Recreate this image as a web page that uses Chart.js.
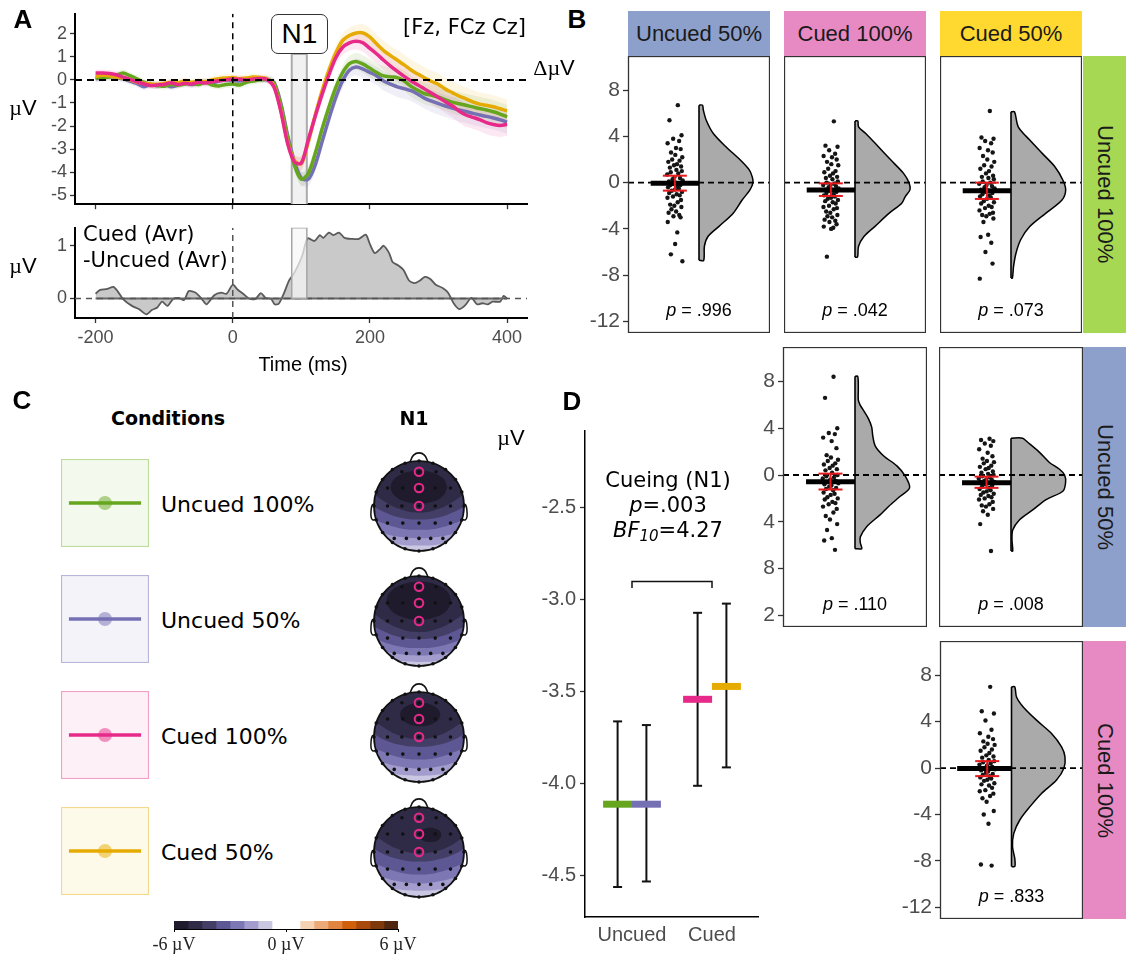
<!DOCTYPE html>
<html>
<head>
<meta charset="utf-8">
<title>ERP cueing figure</title>
<script src="https://cdn.jsdelivr.net/npm/chart.js@4.4.1/dist/chart.umd.min.js"></script>
<style>
  html,body{margin:0;padding:0;background:#fff;}
  #wrap{position:relative;width:1126px;height:956px;overflow:hidden;background:#fff;}
  #wrap canvas{position:absolute;}
  .t{position:absolute;white-space:nowrap;line-height:1;z-index:10;color:#000;}
  .sans{font-family:'Liberation Sans',Arial,sans-serif;}
  .dv{font-family:'DejaVu Sans',Verdana,sans-serif;}
  .serif{font-family:'Liberation Serif','Times New Roman',serif;}
  .strip{position:absolute;display:flex;align-items:center;justify-content:center;font-family:'Liberation Sans',Arial,sans-serif;font-size:22px;color:#1a1a1a;z-index:3;}
  .vert{writing-mode:vertical-rl;}
  .n1box{position:absolute;left:271px;top:14px;width:57px;height:40px;box-sizing:border-box;border:1.5px solid #333;border-radius:7px;background:#fff;z-index:10;display:flex;align-items:center;justify-content:center;font-family:'Liberation Sans',Arial,sans-serif;font-size:28px;}
</style>
</head>
<body>
<div id="wrap"></div>
<script>
// ======================= DATA =======================
// Panel A: grand-average ERPs at [Fz, FCz, Cz] (µV), time in ms
const erpTime = [-200,-190,-180,-170,-160,-150,-140,-130,-120,-110,-100,-90,-80,-70,-60,-50,-40,-30,-20,-10,0,10,20,30,40,50,60,70,80,90,100,110,120,130,140,150,160,170,180,190,200,210,220,230,240,250,260,270,280,290,300,310,320,330,340,350,360,370,380,390,400];
const erpUncued100 = [0.08,0.10,0.12,0.20,0.30,0.18,0.05,-0.10,-0.20,-0.24,-0.28,-0.20,-0.22,-0.18,-0.15,-0.20,-0.10,-0.22,-0.26,-0.20,-0.18,-0.22,-0.10,-0.05,0.00,0.02,
  -0.15,-1.10,-2.50,-3.70,-4.30,-4.05,-3.20,-2.15,-1.20,-0.35,0.30,0.70,0.80,0.68,0.50,0.32,0.17,0.13,0.10,-0.05,-0.28,-0.45,-0.60,-0.67,-0.75,-0.86,-0.96,-1.03,-1.10,-1.17,-1.24,-1.30,-1.38,-1.48,-1.60];
const erpUncued50 = [0.05,0.08,0.15,0.10,0.05,-0.05,-0.15,-0.30,-0.20,-0.25,-0.18,-0.30,-0.22,-0.10,-0.20,-0.15,-0.08,-0.12,-0.05,0.00,-0.02,-0.05,0.00,0.05,0.02,0.00,
  -0.10,-1.00,-2.40,-3.55,-4.25,-4.30,-3.70,-2.70,-1.70,-0.78,-0.05,0.42,0.56,0.47,0.32,0.17,-0.05,-0.18,-0.30,-0.38,-0.47,-0.62,-0.80,-0.92,-1.03,-1.13,-1.22,-1.30,-1.37,-1.45,-1.52,-1.58,-1.65,-1.73,-1.83];
const erpCued100 = [0.30,0.30,0.28,0.22,0.12,0.02,-0.08,-0.17,-0.24,-0.22,-0.20,-0.12,-0.20,-0.15,-0.18,-0.10,-0.14,-0.08,-0.04,0.00,0.04,0.03,0.00,0.04,0.06,0.02,
  -0.30,-1.35,-2.75,-3.55,-3.60,-2.60,-1.60,-0.65,0.20,0.95,1.40,1.60,1.67,1.60,1.36,1.12,0.85,0.60,0.37,0.15,-0.05,-0.22,-0.40,-0.58,-0.76,-0.95,-1.12,-1.35,-1.52,-1.62,-1.72,-1.85,-1.93,-1.97,-1.92];
const erpCued50 = [0.15,0.20,0.18,0.12,0.08,0.00,-0.10,-0.15,-0.18,-0.20,-0.15,-0.10,-0.12,-0.05,-0.10,-0.05,-0.08,0.00,0.05,0.08,0.10,0.05,0.08,0.12,0.10,0.05,
  -0.25,-1.30,-2.70,-3.50,-3.62,-2.70,-1.55,-0.50,0.40,1.15,1.70,1.92,2.03,2.03,1.85,1.55,1.27,1.05,0.85,0.65,0.43,0.25,0.08,-0.07,-0.20,-0.40,-0.55,-0.70,-0.82,-0.95,-1.05,-1.10,-1.16,-1.25,-1.34];
const erpSE = [0.15,0.15,0.15,0.15,0.15,0.15,0.15,0.15,0.15,0.15,0.15,0.15,0.15,0.15,0.15,0.15,0.15,0.15,0.15,0.15,0.15,0.15,0.15,0.15,0.15,0.15,
  0.20,0.22,0.25,0.28,0.30,0.30,0.30,0.30,0.30,0.30,0.32,0.34,0.36,0.38,0.40,0.40,0.42,0.42,0.44,0.44,0.45,0.46,0.46,0.47,0.48,0.48,0.49,0.50,0.50,0.50,0.50,0.50,0.50,0.50,0.50];
const n1Window = [86, 108];
// Cued (Avr) - Uncued (Avr)
const diffTime = [-200,-194,-183,-174,-168,-160,-147,-137,-126,-118,-110,-103,-95,-87,-79,-71,-64,-54,-45,-38,-27,-17,-9,0,7,15,25,33,41,48,56,61,67,75,82,90,101,109,119,127,132,140,147,155,163,174,184,194,200,207,215,220,228,233,241,249,257,265,273,280,288,296,306,314,322,330,338,348,356,364,372,379,390,395,400];
const diffValue = [0.09,0.16,0.18,0.22,0.14,-0.01,-0.14,-0.20,-0.30,-0.22,-0.17,-0.06,-0.14,-0.01,0.01,-0.03,0.14,0.11,-0.01,-0.11,0.06,0.11,0.09,0.26,0.17,0.09,-0.01,-0.01,0.10,0.01,-0.01,-0.11,-0.10,0.11,0.34,0.49,0.80,1.14,1.09,1.20,1.15,1.25,1.20,1.25,1.15,1.13,1.13,1.21,1.03,0.86,0.94,1.00,0.86,0.69,0.63,0.54,0.34,0.29,0.34,0.41,0.37,0.26,0.20,0.11,-0.09,-0.20,-0.14,0.01,-0.11,-0.09,-0.11,-0.06,-0.06,0.05,0.00];
const ticksTime = [-200, 0, 200, 400];
const ticksErp = [-5, -4, -3, -2, -1, 0, 1, 2];
const ticksDiff = [0, 1];

const conditions = ['Uncued 100%', 'Uncued 50%', 'Cued 100%', 'Cued 50%'];
const condColors = ['#66A61E', '#7570B3', '#E7298A', '#E6AB02'];

// Panel B: pairwise N1 differences (ΔµV), one value per participant
const diffU100vsU50 = [6.7,5.4,4.1,3.8,3.6,3.4,3.0,2.9,2.6,2.4,2.2,2.0,1.9,1.8,1.6,1.5,1.4,1.3,1.1,1.0,0.9,0.8,0.7,0.5,0.4,0.3,0.2,0.1,0.0,-0.1,-0.2,-0.2,-0.3,-0.4,-0.5,-0.6,-0.7,-0.8,-0.9,-1.0,-1.1,-1.2,-1.3,-1.5,-1.7,-1.9,-2.0,-2.1,-2.3,-2.5,-2.6,-2.8,-2.9,-3.0,-3.4,-4.3,-5.3,-6.2,-6.8];
const diffU100vsC100 = [5.3,3.2,3.1,2.8,2.5,2.3,2.2,2.0,1.8,1.6,1.5,1.2,1.0,0.9,0.8,0.6,0.5,0.4,0.3,0.1,0.0,-0.1,-0.2,-0.2,-0.3,-0.4,-0.5,-0.6,-0.6,-0.7,-0.8,-0.9,-1.0,-1.1,-1.2,-1.3,-1.4,-1.5,-1.6,-1.7,-1.8,-2.0,-2.1,-2.2,-2.3,-2.5,-2.6,-2.8,-2.9,-3.0,-3.2,-3.3,-3.4,-3.6,-3.8,-3.9,-4.0,-6.4];
const diffU100vsC50 = [6.2,3.9,3.8,3.6,3.4,3.0,2.8,2.6,2.3,2.0,1.8,1.5,1.4,1.2,1.0,0.8,0.6,0.5,0.4,0.3,0.1,0.0,-0.1,-0.2,-0.3,-0.4,-0.5,-0.6,-0.7,-0.8,-0.9,-1.0,-1.1,-1.2,-1.3,-1.4,-1.6,-1.7,-1.8,-2.0,-2.1,-2.2,-2.4,-2.6,-2.7,-2.8,-2.9,-3.1,-3.4,-4.5,-4.7,-5.2,-6.0,-7.0,-8.3];
const diffU50vsC100 = [8.4,6.6,4.0,3.6,3.5,3.2,2.9,2.3,1.7,1.5,1.3,1.2,1.0,0.9,0.8,0.6,0.5,0.4,0.2,0.0,-0.1,-0.2,-0.3,-0.4,-0.5,-0.6,-0.7,-0.8,-0.9,-1.0,-1.1,-1.2,-1.3,-1.5,-1.6,-1.7,-1.9,-2.0,-2.1,-2.3,-2.4,-2.5,-2.7,-2.9,-3.2,-3.5,-3.8,-4.2,-4.7,-5.4,-5.6,-6.4];
const diffU50vsC50 = [3.1,3.0,2.9,2.7,2.5,2.2,1.9,1.6,1.4,1.2,1.1,1.0,0.8,0.7,0.6,0.5,0.3,0.2,0.1,0.0,-0.1,-0.2,-0.3,-0.4,-0.4,-0.5,-0.6,-0.6,-0.7,-0.8,-0.9,-1.0,-1.1,-1.2,-1.3,-1.4,-1.5,-1.6,-1.7,-1.8,-1.9,-2.0,-2.1,-2.3,-2.5,-2.6,-2.7,-2.9,-3.1,-3.4,-4.2,-6.5];
const diffC100vsC50 = [7.0,4.9,4.7,4.1,3.3,3.0,2.7,2.5,2.3,2.1,2.0,1.8,1.6,1.5,1.3,1.1,1.0,0.9,0.7,0.6,0.5,0.4,0.3,0.2,0.1,0.0,-0.1,-0.2,-0.3,-0.4,-0.5,-0.6,-0.7,-0.8,-0.9,-1.0,-1.1,-1.3,-1.4,-1.5,-1.7,-1.9,-2.0,-2.2,-2.4,-2.6,-2.9,-3.7,-4.0,-4.8,-8.3,-8.4];
const jitter = [0.021,-0.038,0.047,-0.012,0.030,-0.051,0.008,0.041,-0.027,0.003,0.052,-0.019,0.033,-0.046,0.015,-0.006,0.044,-0.035,0.011,0.049,-0.029,0.024,-0.054,-0.002,0.036,-0.016,0.055,-0.042,0.006,-0.009,0.039,-0.031,0.018,-0.048,0.028,0.001,-0.022,0.050,-0.040,0.013,0.034,-0.013,-0.052,0.043,0.020,-0.033,-0.004,0.046,-0.024,0.009,-0.044,0.031,-0.010,0.040,-0.050,0.017,0.002,-0.028,0.053,-0.018];
// half-violin outlines: level (ΔµV) and half width (fraction of panel width)
const vioY_U100U50 = [-6.72,-5.5,-4.66,-3.8,-2.64,-1.5,-0.63,0,0.5,1.1,1.95,3.1,4.25,5.4,6.3,6.7];
const vioW_U100U50 = [0.033,0.038,0.063,0.139,0.241,0.304,0.359,0.38,0.375,0.354,0.291,0.19,0.101,0.051,0.03,0.025];
const vioY_U100C100 = [-6.44,-5.5,-4.66,-3.8,-2.64,-1.78,-1.2,-0.63,0,0.8,1.95,3.1,4.25,4.83,5.34];
const vioW_U100C100 = [0.018,0.025,0.063,0.139,0.241,0.329,0.354,0.387,0.38,0.342,0.253,0.165,0.076,0.025,0.02];
const vioY_U100C50 = [-8.25,-7.24,-6.1,-4.94,-3.8,-2.64,-1.5,-0.63,0.23,1.38,2.53,3.68,4.83,6.12];
const vioW_U100C50 = [0.01,0.018,0.035,0.068,0.132,0.246,0.359,0.385,0.365,0.309,0.22,0.132,0.051,0.025];
const vioY_U50C100 = [-6.3,-5.8,-5.29,-4.42,-3.41,-2.69,-1.82,-1.1,-0.09,0.78,1.65,2.5,3.38,4.1,4.83,5.55,6.0,6.4,7.43,8.44];
const vioW_U50C100 = [0.047,0.037,0.037,0.081,0.174,0.233,0.314,0.379,0.349,0.291,0.198,0.14,0.123,0.116,0.093,0.058,0.035,0.023,0.023,0.019];
const vioY_U50C50 = [-6.5,-5.58,-4.71,-3.84,-2.98,-2.1,-1.39,-0.66,0,0.49,1.07,1.94,2.8,3.15];
const vioW_U50C50 = [0.012,0.007,0.012,0.058,0.151,0.244,0.36,0.379,0.372,0.337,0.267,0.198,0.116,0.081];
const vioY_C100C50 = [-8.48,-7.8,-6.76,-5.62,-4.47,-3.32,-2.18,-1.03,0,0.97,1.83,2.98,4.13,5.27,6.13,7.0];
const vioW_C100C50 = [0.023,0.023,0.007,0.016,0.058,0.129,0.21,0.315,0.367,0.374,0.35,0.28,0.175,0.082,0.035,0.023];
const meanB = [-0.05, -0.63, -0.69, -0.58, -0.66, -0.03];
const ciLowB = [-0.69, -1.15, -1.41, -1.24, -1.10, -0.69];
const ciHighB = [0.60, -0.06, 0.00, 0.12, -0.14, 0.60];
const pB = ['.996', '.042', '.073', '.110', '.008', '.833'];
const ticksB = [-12, -8, -4, 0, 4, 8];

// Panel C: N1 topographies. Contour boundaries (head coordinates, unit radius):
// for each map, the y of the -1.5, -2.25, -3.0, -3.75, -4.5 µV contours at topoCurveX,
// plus the outline of the region below -5.25 µV.
const topoCurveX = [-1.2, -0.8, -0.4, 0, 0.4, 0.8, 1.2];
const topoU100Levels = [
  [-0.60,-0.78,-0.86,-0.88,-0.86,-0.78,-0.60],
  [-0.42,-0.60,-0.69,-0.72,-0.69,-0.60,-0.42],
  [-0.18,-0.38,-0.50,-0.53,-0.50,-0.38,-0.18],
  [ 0.10,-0.12,-0.26,-0.30,-0.26,-0.12, 0.10],
  [ 0.45, 0.12,-0.08,-0.15,-0.08, 0.12, 0.45]];
const topoU100CoreX = [0.63,0.546,0.315,0,-0.315,-0.546,-0.63,-0.546,-0.315,0,0.315,0.546];
const topoU100CoreY = [0.42,0.605,0.74,0.79,0.74,0.605,0.42,0.235,0.10,0.05,0.10,0.235];
const topoU50Levels = [
  [-0.68,-0.82,-0.89,-0.91,-0.89,-0.82,-0.68],
  [-0.50,-0.66,-0.74,-0.77,-0.74,-0.66,-0.50],
  [-0.28,-0.46,-0.57,-0.60,-0.57,-0.46,-0.28],
  [ 0.00,-0.22,-0.36,-0.40,-0.36,-0.22, 0.00],
  [ 0.35, 0.02,-0.18,-0.25,-0.18, 0.02, 0.35]];
const topoU50CoreX = [0.72,0.624,0.36,0,-0.36,-0.624,-0.72,-0.624,-0.36,0,0.36,0.624];
const topoU50CoreY = [0.45,0.66,0.814,0.87,0.814,0.66,0.45,0.24,0.086,0.03,0.086,0.24];
const topoC100Levels = [
  [-0.58,-0.76,-0.84,-0.86,-0.84,-0.76,-0.58],
  [-0.38,-0.56,-0.66,-0.70,-0.66,-0.56,-0.38],
  [-0.12,-0.33,-0.46,-0.50,-0.46,-0.33,-0.12],
  [ 0.20,-0.05,-0.18,-0.22,-0.18,-0.05, 0.20],
  [ 0.55, 0.22, 0.02,-0.05, 0.02, 0.22, 0.55]];
const topoC100CoreX = [0.48,0.42,0.255,0.03,-0.195,-0.36,-0.42,-0.36,-0.195,0.03,0.255,0.42];
const topoC100CoreY = [0.5,0.63,0.725,0.76,0.725,0.63,0.5,0.37,0.275,0.24,0.275,0.37];
const topoC50Levels = [
  [-0.58,-0.76,-0.84,-0.86,-0.84,-0.76,-0.58],
  [-0.38,-0.56,-0.66,-0.70,-0.66,-0.56,-0.38],
  [-0.12,-0.33,-0.46,-0.50,-0.46,-0.33,-0.12],
  [ 0.22,-0.04,-0.17,-0.21,-0.17,-0.04, 0.22],
  [ 0.55, 0.24, 0.04,-0.03, 0.02, 0.20, 0.52]];
const topoC50CoreX = [0.5,0.467,0.375,0.25,0.125,0.033,0,0.033,0.125,0.25,0.375,0.467];
const topoC50CoreY = [0.38,0.46,0.519,0.54,0.519,0.46,0.38,0.30,0.241,0.22,0.241,0.30];
// electrode layout (unit head radius)
const elecX = [-0.38,0.38,-0.70,-0.36,0.36,0.70,-0.70,-0.38,0.36,0.70,-0.70,-0.36,0,0.36,0.70,-0.55,-0.28,0,0.26,0.53,0,0,0,
  0,0.31,0.59,0.81,0.95,1,0.95,0.81,0.59,0.31,0,-0.31,-0.59,-0.81,-0.95,-1,-0.95,-0.81,-0.59,-0.31];
const elecY = [0.76,0.76,0.40,0.40,0.40,0.40,0,0,0,0,-0.38,-0.38,-0.38,-0.38,-0.38,-0.72,-0.72,-0.72,-0.72,-0.72,0.76,0.40,0,
  1,0.95,0.81,0.59,0.31,0,-0.31,-0.59,-0.81,-0.95,-1,-0.95,-0.81,-0.59,-0.31,0,0.31,0.59,0.81,0.95];
const roiX = [0, 0, 0];          // Fz, FCz, Cz
const roiY = [0.76, 0.40, 0];
const noseX = [-0.2,-0.12,0,0.12,0.2];
const noseY = [0.98,1.13,1.18,1.13,0.98];
const earLX = [-0.99,-1.04,-1.065,-1.065,-1.03,-0.96];
const earRX = [0.99,1.04,1.065,1.065,1.03,0.96];
const earY = [0.05,0.02,-0.1,-0.24,-0.31,-0.30];
const cbEdges = [-6,-5.25,-4.5,-3.75,-3,-2.25,-1.5,-0.75,0,0.75,1.5,2.25,3,3.75,4.5,5.25,6];
const cbColors = ['#1f1b2d','#2f2b47','#433e66','#5d5793','#7d77b4','#a29dcc','#cac7e3','#ffffff','#ffffff','#f4d2b2','#ecaa78','#e1843f','#d1600d','#a9490b','#7d380c','#4f270e'];
const cbTicks = [-6, 0, 6];

// Panel D: N1 amplitude per condition (µV) with error bars
const dGroup = [1, 1, 2, 2];               // 1 = Uncued, 2 = Cued
const dMean = [-4.11, -4.11, -3.54, -3.47];
const dLow  = [-4.56, -4.53, -4.01, -3.91];
const dHigh = [-3.66, -3.68, -3.07, -3.02];
const dCategories = ['Uncued', 'Cued'];
const ticksD = [-4.5, -4.0, -3.5, -3.0, -2.5];
const dBracketY = -2.9;

// ======================= RENDERING =======================
Chart.defaults.animation = false;
Chart.defaults.responsive = false;
Chart.defaults.devicePixelRatio = 1;
Chart.defaults.layout.autoPadding = false;
Chart.defaults.font.family = "'Liberation Sans', Arial, sans-serif";
Chart.defaults.plugins.legend.display = false;
Chart.defaults.plugins.tooltip.enabled = false;
Chart.defaults.elements.point.radius = 0;

const wrap = document.getElementById('wrap');
function mk(left, top, w, h, z) {
  const c = document.createElement('canvas');
  c.width = w; c.height = h;
  c.style.left = left + 'px'; c.style.top = top + 'px';
  c.style.width = w + 'px'; c.style.height = h + 'px';
  if (z) c.style.zIndex = z;
  wrap.appendChild(c);
  return c;
}
function txt(html, x, y, cls, size, anchor, extra) {
  const d = document.createElement('div');
  d.className = 't ' + cls;
  d.innerHTML = html;
  d.style.left = x + 'px'; d.style.top = y + 'px';
  d.style.fontSize = size + 'px';
  d.style.transform = anchor === 'c' ? 'translate(-50%,-50%)' : (anchor === 'l' ? 'translateY(-50%)' : 'none');
  if (extra) d.style.cssText += extra;
  wrap.appendChild(d);
  return d;
}
function strip(label, left, top, w, h, color, vertical) {
  const d = document.createElement('div');
  d.className = 'strip';
  d.style.cssText += `left:${left}px;top:${top}px;width:${w}px;height:${h}px;background:${color};`;
  d.innerHTML = vertical ? `<span class="vert">${label}</span>` : label;
  wrap.appendChild(d);
}
function rgba(hex, a) { const n = parseInt(hex.slice(1), 16); return `rgba(${(n >> 16) & 255},${(n >> 8) & 255},${n & 255},${a})`; }
const xy = (xs, ys) => xs.map((x, i) => ({x, y: ys[i]}));
const fixedTicks = arr => axis => { axis.ticks = arr.map(v => ({value: v})); };
const boxPlugin = {id: 'box', afterDatasetsDraw(chart, args, o) {
  if (!o || !o.color) return;
  const {ctx, chartArea: a} = chart;
  ctx.save(); ctx.strokeStyle = o.color; ctx.lineWidth = o.width || 1;
  ctx.strokeRect(a.left + 0.5, a.top + 0.5, a.right - a.left - 1, a.bottom - a.top - 1); ctx.restore();
}};
const bgPlugin = {id: 'bg', beforeDraw(chart, args, o) {
  if (!o || !o.fill) return;
  const c = chart.ctx; c.save(); c.fillStyle = o.fill; c.fillRect(0, 0, chart.width, chart.height);
  if (o.stroke) { c.strokeStyle = o.stroke; c.lineWidth = 1.2; c.strokeRect(0.5, 0.5, chart.width - 1, chart.height - 1); }
  c.restore();
}};
const tickGrid = {drawOnChartArea: false, drawTicks: true, tickLength: 5, tickColor: '#333', tickWidth: 1.3};

// ---------- Panel A (top): ERPs ----------
(function () {
  const yMin = -5.38, yMax = 2.86, xMin = -230, xMax = 429;
  const cv = mk(0, 0, 540, 218);
  const series = [erpUncued100, erpUncued50, erpCued100, erpCued50];
  const lineOrder = [3, 4, 1, 2];
  const ds = [];
  series.forEach((s, i) => {
    ds.push({data: xy(erpTime, s.map((v, k) => v - erpSE[k])), borderColor: 'transparent', borderWidth: 0, fill: false, tension: 0.3, order: 60});
    ds.push({data: xy(erpTime, s.map((v, k) => v + erpSE[k])), borderColor: 'transparent', borderWidth: 0, fill: '-1', backgroundColor: rgba(condColors[i], 0.11), tension: 0.3, order: 60});
  });
  series.forEach((s, i) => ds.push({data: xy(erpTime, s), borderColor: condColors[i], borderWidth: 3.5, tension: 0.3, fill: false, order: lineOrder[i]}));
  ds.push({data: [{x: n1Window[0], y: yMin}, {x: n1Window[0], y: 1.12}, {x: n1Window[1], y: 1.12}, {x: n1Window[1], y: yMin}],
    fill: 'shape', backgroundColor: '#f1f1f1', borderColor: '#ababab', borderWidth: 2, order: 100});
  ds.push({data: [{x: xMin, y: 0}, {x: xMax, y: 0}], borderColor: '#000', borderWidth: 2, borderDash: [7, 5], order: 0});
  ds.push({data: [{x: 0, y: yMin}, {x: 0, y: yMax}], borderColor: '#000', borderWidth: 1.5, borderDash: [6, 5], order: 0});
  new Chart(cv, {type: 'line', data: {datasets: ds}, options: {
    layout: {padding: {top: 12, right: 13, left: 0, bottom: 0}},
    scales: {
      x: {type: 'linear', min: xMin, max: xMax, afterBuildTicks: fixedTicks(ticksTime), afterFit: a => { a.height = 7; },
          ticks: {display: false}, grid: tickGrid, border: {display: true, color: '#000', width: 2}},
      y: {type: 'linear', min: yMin, max: yMax, afterBuildTicks: fixedTicks(ticksErp), afterFit: a => { a.width = 75; },
          ticks: {color: '#4d4d4d', font: {size: 18}, padding: 3}, grid: tickGrid, border: {display: true, color: '#000', width: 2}}
    }}});
})();

// ---------- Panel A (bottom): difference wave ----------
(function () {
  const yMin = -0.37, yMax = 1.34, xMin = -230, xMax = 429;
  const cv = mk(0, 214, 540, 160);
  const ds = [
    {data: xy(diffTime, diffValue), borderColor: '#5a5a5a', borderWidth: 1.8, backgroundColor: '#c9c9c9', fill: 'origin', tension: 0.25, order: 6},
    {data: [{x: -200, y: 0}, {x: 400, y: 0}], borderColor: '#666', borderWidth: 1.8, order: 5},
    {data: [{x: xMin, y: 0}, {x: xMax, y: 0}], borderColor: '#555', borderWidth: 1.5, borderDash: [6, 5], order: 4},
    {data: [{x: 0, y: yMin}, {x: 0, y: yMax}], borderColor: '#555', borderWidth: 1.5, borderDash: [6, 5], order: 4},
    {data: [{x: n1Window[0], y: 0}, {x: n1Window[0], y: yMax}, {x: n1Window[1], y: yMax}, {x: n1Window[1], y: 0}, {x: n1Window[0], y: 0}],
      fill: 'shape', backgroundColor: 'rgba(247,247,247,0.72)', borderColor: '#a5a5a5', borderWidth: 1.5, order: 2}
  ];
  new Chart(cv, {type: 'line', data: {datasets: ds}, options: {
    layout: {padding: {top: 4, right: 13, left: 0, bottom: 0}},
    scales: {
      x: {type: 'linear', min: xMin, max: xMax, afterBuildTicks: fixedTicks(ticksTime), afterFit: a => { a.height = 56; },
          ticks: {color: '#4d4d4d', font: {size: 18}, padding: 4, maxRotation: 0}, grid: tickGrid, border: {display: true, color: '#000', width: 2}},
      y: {type: 'linear', min: yMin, max: yMax, afterBuildTicks: fixedTicks(ticksDiff), afterFit: a => { a.width = 75; },
          ticks: {color: '#4d4d4d', font: {size: 18}, padding: 3}, grid: tickGrid, border: {display: true, color: '#000', width: 2}}
    }}});
})();

// ---------- Panel B: raincloud grid ----------
const bPanels = [
  {left: 628, top: 56, w: 142, h: 277, axis: true, vals: diffU100vsU50, vy: vioY_U100U50, vw: vioW_U100U50, m0: 0.16},
  {left: 784, top: 56, w: 142, h: 277, axis: false, vals: diffU100vsC100, vy: vioY_U100C100, vw: vioW_U100C100, m0: 0.16},
  {left: 940, top: 56, w: 142, h: 277, axis: false, vals: diffU100vsC50, vy: vioY_U100C50, vw: vioW_U100C50, m0: 0.16},
  {left: 783, top: 347, w: 144, h: 280, axis: true, vals: diffU50vsC100, vy: vioY_U50C100, vw: vioW_U50C100, m0: 0.16},
  {left: 939, top: 347, w: 144, h: 280, axis: false, vals: diffU50vsC50, vy: vioY_U50C50, vw: vioW_U50C50, m0: 0.16},
  {left: 940, top: 641, w: 143, h: 278, axis: true, vals: diffC100vsC50, vy: vioY_C100C50, vw: vioW_C100C50, m0: 0.12}
];
bPanels.forEach((p, idx) => {
  const axisW = p.axis ? 50 : 0;
  const cv = mk(p.left - axisW, p.top, p.w + axisW, p.h);
  const base = 0.5, dotX = 0.33;
  const outline = [{x: base, y: p.vy[0]}].concat(p.vy.map((y, i) => ({x: base + p.vw[i], y})), [{x: base, y: p.vy[p.vy.length - 1]}]);
  const ds = [
    {data: outline, fill: 'shape', backgroundColor: '#aaaaaa', borderColor: '#000', borderWidth: 1.5, tension: 0.3, order: 7},
    {data: [{x: base, y: p.vy[0]}, {x: base, y: p.vy[p.vy.length - 1]}], borderColor: '#000', borderWidth: 1.6, order: 6},
    {data: [{x: 0, y: 0}, {x: 1, y: 0}], borderColor: '#000', borderWidth: 1.8, borderDash: [6, 4], order: 5},
    {data: p.vals.map((v, i) => ({x: dotX + jitter[i % jitter.length], y: v})), showLine: false, pointRadius: 2.2, pointBackgroundColor: '#151515', pointBorderWidth: 0, order: 4},
    {data: [{x: p.m0, y: meanB[idx]}, {x: base, y: meanB[idx]}], borderColor: '#000', borderWidth: 5, order: 3},
    {data: [{x: dotX, y: ciLowB[idx]}, {x: dotX, y: ciHighB[idx]}], borderColor: '#e8191c', borderWidth: 2,
      pointStyle: 'line', pointRadius: 12, pointBorderColor: '#e8191c', pointBorderWidth: 2, order: 2}
  ];
  new Chart(cv, {type: 'line', data: {datasets: ds}, plugins: [boxPlugin], options: {
    layout: {padding: 0},
    plugins: {box: {color: '#333', width: 1.3}},
    scales: {
      x: {type: 'linear', min: 0, max: 1, display: false},
      y: {type: 'linear', min: -13, max: 10.95, display: p.axis, afterBuildTicks: fixedTicks(ticksB),
          afterFit: a => { a.width = axisW; a.paddingTop = 0; a.paddingBottom = 0; },
          ticks: {color: '#4d4d4d', font: {size: 21}, padding: 3}, grid: tickGrid, border: {display: false}}
    }}});
  txt(`<i>p</i> = ${pB[idx]}`, p.left + p.w / 2, p.top + p.h - 23, 'sans', 18, 'c');
});
// facet strips
strip('Uncued 50%', 628, 11, 142, 45, '#8DA0CB');
strip('Cued 100%', 784, 11, 142, 45, '#E78AC3');
strip('Cued 50%', 940, 11, 142, 45, '#FFD92F');
strip('Uncued 100%', 1083, 56, 43, 277, '#A6D854', true);
strip('Uncued 50%', 1083, 347, 43, 280, '#8DA0CB', true);
strip('Cued 100%', 1083, 641, 43, 278, '#E78AC3', true);

// ---------- Panel C: legend keys + topographies ----------
const legendTops = [459, 575, 691, 807];
const legendFill = ['#f4f9ee', '#f3f3f9', '#fdf1f7', '#fefaea'];
const legendStroke = ['#bcdc9a', '#b8b5db', '#f2a0c8', '#f1d98e'];
conditions.forEach((name, i) => {
  const cv = mk(61, legendTops[i], 88, 88);
  new Chart(cv, {type: 'line', data: {datasets: [{data: [{x: 0.09, y: 0}, {x: 0.5, y: 0}, {x: 0.91, y: 0}], borderColor: condColors[i], borderWidth: 3.5,
      pointRadius: [0, 7, 0], pointBackgroundColor: rgba(condColors[i], 0.5), pointBorderWidth: 0}]},
    plugins: [bgPlugin], options: {layout: {padding: 0}, plugins: {bg: {fill: legendFill[i], stroke: legendStroke[i]}},
      scales: {x: {type: 'linear', min: 0, max: 1, display: false}, y: {type: 'linear', min: -1, max: 1, display: false}}}});
  txt(name, 161, legendTops[i] + 46, 'dv', 22, 'l');
});
// clip all contour fills to the head circle
const headClip = {id: 'headClip',
  beforeDatasetsDraw(chart) {
    const {ctx, scales: {x, y}} = chart;
    const cx = x.getPixelForValue(0), cy = y.getPixelForValue(0), r = x.getPixelForValue(1) - cx;
    ctx.save(); ctx.beginPath(); ctx.arc(cx, cy, r, 0, Math.PI * 2); ctx.clip();
  },
  afterDatasetsDraw(chart) { chart.ctx.restore(); }
};
const topoScales = {x: {type: 'linear', min: -1.2, max: 1.2, display: false}, y: {type: 'linear', min: -1.2, max: 1.2, display: false}};
const topoMaps = [
  {levels: topoU100Levels, coreX: topoU100CoreX, coreY: topoU100CoreY},
  {levels: topoU50Levels, coreX: topoU50CoreX, coreY: topoU50CoreY},
  {levels: topoC100Levels, coreX: topoC100CoreX, coreY: topoC100CoreY},
  {levels: topoC50Levels, coreX: topoC50CoreX, coreY: topoC50CoreY}
];
const topoLevelColors = [cbColors[5], cbColors[4], cbColors[3], cbColors[2], cbColors[1]];
const topoCenters = [506, 621, 737, 852];
topoMaps.forEach((m, gi) => {
  const cx = 419, cy = topoCenters[gi];
  // contour bands
  const cvB = mk(cx - 54, cy - 54, 108, 108);
  const ds = [{data: [{x: -1.2, y: -1.2}, {x: 1.2, y: -1.2}], borderColor: 'transparent', borderWidth: 0, fill: 'end', backgroundColor: cbColors[6], order: 20}];
  m.levels.forEach((ys, k) => ds.push({data: xy(topoCurveX, ys), borderColor: 'transparent', borderWidth: 0, fill: 'end',
    backgroundColor: topoLevelColors[k], tension: 0.4, order: 19 - k}));
  ds.push({data: xy(m.coreX.concat([m.coreX[0]]), m.coreY.concat([m.coreY[0]])), borderColor: 'transparent', borderWidth: 0,
    fill: 'shape', backgroundColor: cbColors[0], tension: 0.4, order: 10});
  new Chart(cvB, {type: 'line', data: {datasets: ds}, plugins: [headClip], options: {layout: {padding: 0}, scales: topoScales}});
  // head outline + electrodes
  const cvO = mk(cx - 54, cy - 54, 108, 108, 2);
  const headR = c => { const s = c.chart.scales.x; return s.getPixelForValue(1) - s.getPixelForValue(0); };
  const ov = [
    {data: [{x: 0, y: 0}], showLine: false, pointRadius: headR, pointBackgroundColor: 'rgba(0,0,0,0)', pointBorderColor: '#111', pointBorderWidth: 1.7, order: 5},
    {data: xy(noseX, noseY), borderColor: '#111', borderWidth: 1.6, tension: 0.4, order: 5},
    {data: xy(earLX, earY), borderColor: '#111', borderWidth: 1.5, tension: 0.4, order: 5},
    {data: xy(earRX, earY), borderColor: '#111', borderWidth: 1.5, tension: 0.4, order: 5},
    {data: xy(elecX, elecY), showLine: false, pointRadius: 1.8, pointBackgroundColor: '#111', pointBorderWidth: 0, order: 2},
    {data: xy(roiX, roiY), showLine: false, pointRadius: 4.3, pointBackgroundColor: 'rgba(0,0,0,0)', pointBorderColor: '#E7298A', pointBorderWidth: 2, order: 1}
  ];
  new Chart(cvO, {type: 'line', data: {datasets: ov}, options: {layout: {padding: 0}, scales: topoScales}});
});
// colour bar
(function () {
  const cv = mk(140, 915, 292, 41);
  new Chart(cv, {type: 'bar', data: {labels: ['cb'], datasets: cbColors.map((c, i) => ({data: [[cbEdges[i], cbEdges[i + 1]]], backgroundColor: c,
      borderWidth: 0, grouped: false, barPercentage: 1, categoryPercentage: 1}))},
    options: {indexAxis: 'y', layout: {padding: {left: 34, right: 34, top: 6, bottom: 0}},
      scales: {
        x: {type: 'linear', min: -6, max: 6, afterBuildTicks: fixedTicks(cbTicks), afterFit: a => { a.height = 27; },
            ticks: {callback: v => v + ' µV', color: '#222', font: {family: "'Liberation Serif', serif", size: 18}, padding: 2, maxRotation: 0},
            grid: {drawOnChartArea: false, tickLength: 3, tickColor: '#000'}, border: {display: true, color: '#000', width: 1}},
        y: {display: false}
      }}});
})();

// ---------- Panel D: N1 means ----------
(function () {
  const cv = mk(480, 380, 283, 576, 5);
  const dodge = 0.18;
  const xs = dGroup.map((g, i) => g + (i % 2 ? dodge : -dodge));
  const ds = [
    {data: [{x: 1, y: dBracketY - 0.035}, {x: 1, y: dBracketY}, {x: 2, y: dBracketY}, {x: 2, y: dBracketY - 0.035}], borderColor: '#111', borderWidth: 1.5, order: 3}
  ];
  xs.forEach((x, i) => ds.push({data: [{x, y: dLow[i]}, {x, y: dHigh[i]}], borderColor: '#111', borderWidth: 2,
    pointStyle: 'line', pointRadius: 4.5, pointBorderColor: '#111', pointBorderWidth: 2, order: 2}));
  ds.push({data: xs.map((x, i) => ({x, y: dMean[i]})), showLine: false, pointStyle: 'line', pointRadius: 14.5, pointBorderWidth: 7,
    pointBorderColor: condColors, order: 1});
  new Chart(cv, {type: 'line', data: {datasets: ds}, plugins: [bgPlugin], options: {
    layout: {padding: {top: 51, right: 5, left: 0, bottom: 0}},
    plugins: {bg: {fill: '#ffffff'}},
    scales: {
      x: {type: 'linear', min: 0.4125, max: 2.575, afterBuildTicks: fixedTicks([1, 2]), afterFit: a => { a.height = 39; },
          ticks: {callback: v => dCategories[Math.round(v) - 1], color: '#4d4d4d', font: {size: 20}, padding: 6, maxRotation: 0},
          grid: {drawOnChartArea: false, drawTicks: false}, border: {display: true, color: '#000', width: 1.5}},
      y: {type: 'linear', min: -4.723, max: -2.082, afterBuildTicks: fixedTicks(ticksD), afterFit: a => { a.width = 105; },
          ticks: {callback: v => v.toFixed(1), color: '#4d4d4d', font: {size: 20}, padding: 4}, grid: tickGrid,
          border: {display: true, color: '#000', width: 1.5}}
    }}});
})();

// ---------- Text annotations ----------
txt('A', 23, 18.5, 'sans', 26, 'c', 'font-weight:bold;');
txt('B', 577, 18.5, 'sans', 26, 'c', 'font-weight:bold;');
txt('C', 22, 400, 'sans', 26, 'c', 'font-weight:bold;');
txt('D', 572, 401, 'sans', 26, 'c', 'font-weight:bold;');
txt('<span class="serif">µ</span>V', 23, 108, 'sans', 22, 'c');
txt('<span class="serif">µ</span>V', 23, 266, 'sans', 22, 'c');
txt('<span class="serif">Δµ</span>V', 554, 68, 'sans', 22, 'c');
txt('<span class="serif">µ</span>V', 511, 438, 'sans', 22, 'c');
txt('[Fz, FCz Cz]', 403, 27, 'dv', 21, 'l');
txt('Cued (Avr)', 83, 234, 'dv', 21, 'l');
txt('-Uncued (Avr)', 83, 260, 'dv', 21, 'l');
txt('Time (ms)', 303, 364, 'sans', 20, 'c');
txt('Conditions', 168, 418, 'dv', 19, 'c', 'font-weight:bold;');
txt('N1', 414, 418, 'dv', 19, 'c', 'font-weight:bold;');
txt('Cueing (N1)', 668, 480, 'dv', 21, 'c');
txt('<i>p</i>=.003', 668, 505, 'dv', 21, 'c');
txt('<i>BF<sub style="font-size:15px;vertical-align:-4px;">10</sub></i>=4.27', 668, 532, 'dv', 21, 'c');
const n1 = document.createElement('div'); n1.className = 'n1box'; n1.textContent = 'N1'; wrap.appendChild(n1);
</script>
</body>
</html>
